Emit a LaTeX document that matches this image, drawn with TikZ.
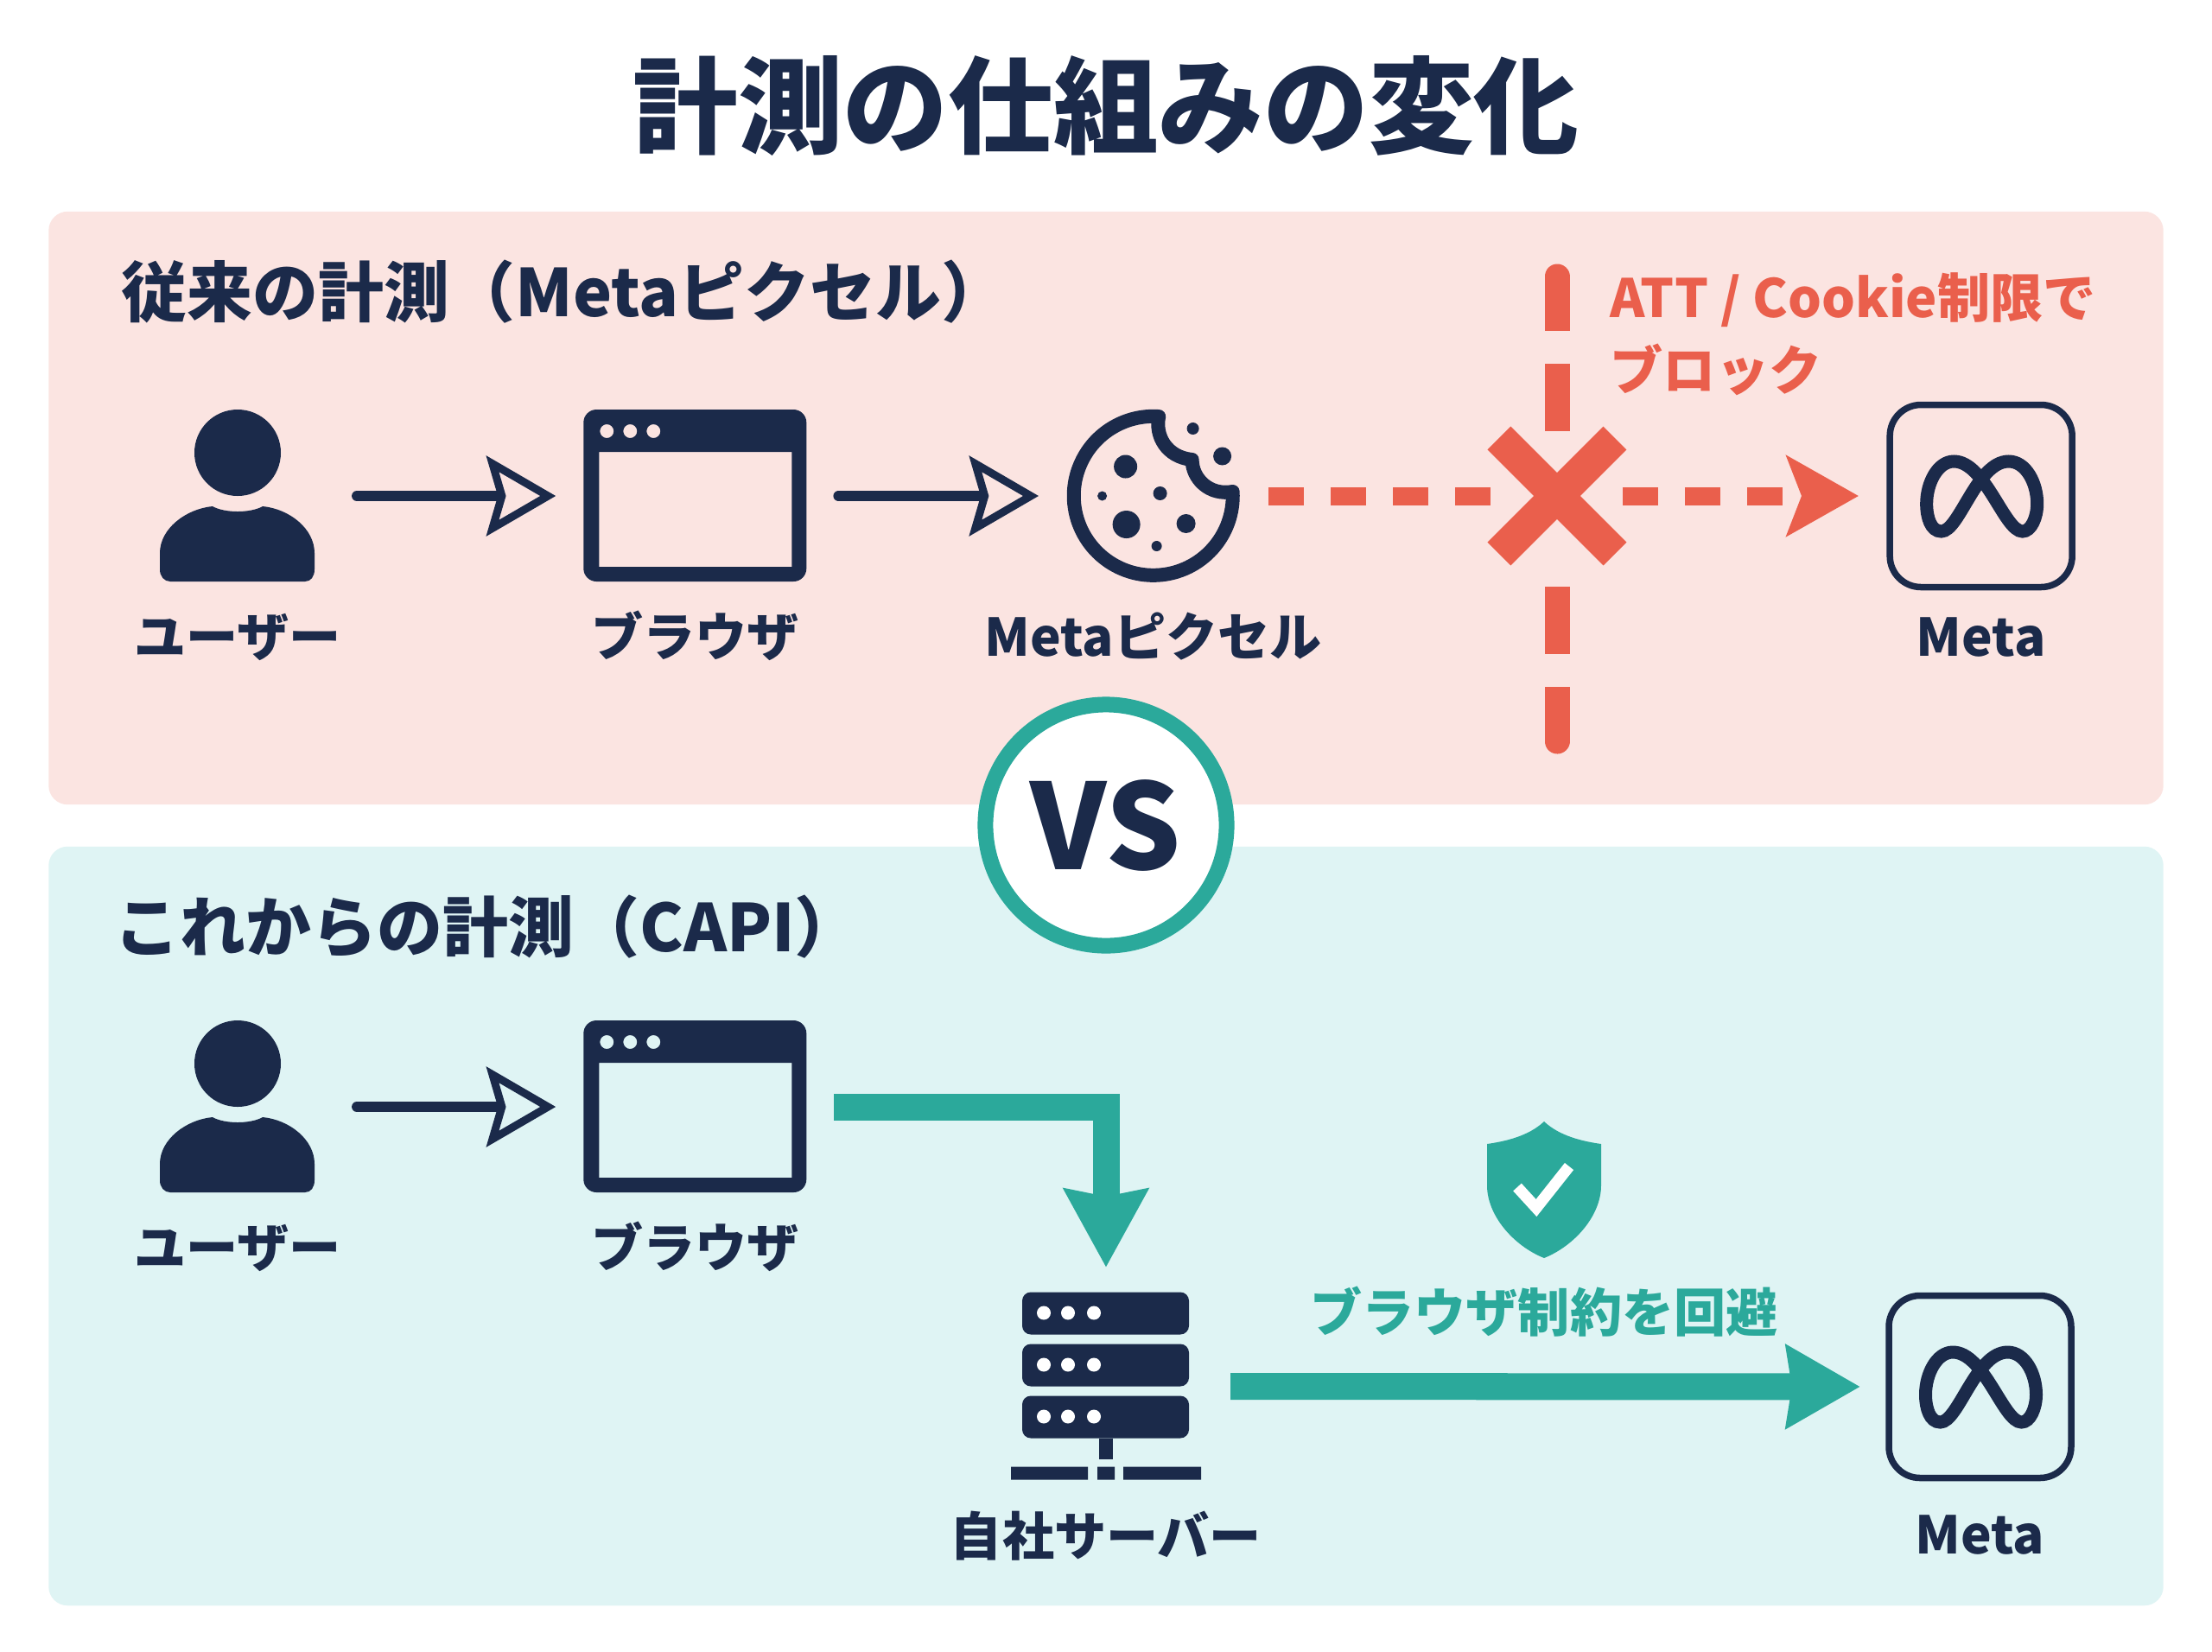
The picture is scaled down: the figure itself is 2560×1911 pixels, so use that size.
\documentclass[tikz,border=0pt]{standalone}
\usepackage{fontspec}
\setmainfont{Noto Sans CJK JP}
\newfontfamily\blackfont{Noto Sans CJK JP Black}
\usetikzlibrary{arrows.meta,positioning,shapes.misc}
\definecolor{navy}{HTML}{1B2A4A}
\definecolor{redc}{HTML}{EA5F4C}
\definecolor{tealc}{HTML}{2BA99B}
\definecolor{panelred}{HTML}{FBE4E1}
\definecolor{panelteal}{HTML}{DFF4F4}
\tikzset{
  panel/.style={inner sep=0,outer sep=0,rounded corners=0.22cm,minimum width=24.46cm},
  icon/.style={inner sep=0,outer sep=0},
  lab/.style={inner sep=0,text=navy,font=\fontsize{17.1}{20}\selectfont\bfseries,text height=0.52cm,text depth=0.1cm},
  head/.style={inner sep=0,anchor=west,text=navy,font=\fontsize{21.6}{24}\selectfont\bfseries},
  flow/.style={draw=navy,line width=0.12cm,line cap=round,shorten <=0.37cm,shorten >=0.32cm},
  dashflow/.style={draw=redc,line width=0.21cm,dash pattern=on 0.41cm off 0.31cm},
  tealflow/.style={draw=tealc,line width=0.31cm},
  gate/.style={draw=redc,line width=0.29cm},
  usericon/.pic={
    \fill[navy] (0,-50) circle[radius=50];
    \fill[navy] (-29,12) .. controls (-15,20) and (15,20) .. (29,12)
      .. controls (60,15) and (89,38) .. (89,66) -- (89,85)
      .. controls (89,93) and (85,99) .. (78,99) -- (-78,99)
      .. controls (-85,99) and (-90,93) .. (-90,85) -- (-90,66)
      .. controls (-90,38) and (-60,15) .. (-29,12) -- cycle;
  },
  browsericon/.pic={
    \fill[navy,even odd rule] [rounded corners=0.15cm] (-129,-100) rectangle (129,99)
      [sharp corners] (-111,-51) rectangle (112,82)
      (-102,-75) circle[radius=8] (-75,-75) circle[radius=8] (-48,-75) circle[radius=8];
  },
  cookieicon/.pic={
    \draw[navy,line width=0.16cm,line join=round,line cap=round] (92,-5) arc[start angle=-3,end angle=274,radius=92]
      .. controls (2,-70) and (15,-45) .. (45,-42)
      .. controls (45,-20) and (65,0) .. (92,-5);
    \foreach \dx/\dy/\dr in {-32/-34/13.5,46/-78/7,80/-46/10.5,-59/0/5.5,8/-3/8,-31/33/16,38/32/11,4/58/6}
      \fill[navy] (\dx,\dy) circle[radius=\dr];
  },
  metaicon/.pic={
    \draw[navy,line width=0.075cm,rounded corners=0.36cm] (-105.5,-105.5) rectangle (105.5,105.5);
    \draw[navy,line width=0.15cm] (-31.5,-40) .. controls (-50,-40) and (-63,-15) .. (-63,9)
      .. controls (-63,25) and (-58,41) .. (-46,41)
      .. controls (-25,41) and (-5,-40) .. (32,-40)
      .. controls (52,-40) and (65,-15) .. (65,9)
      .. controls (65,25) and (58,41) .. (48,41)
      .. controls (27,41) and (5,-40) .. (-31.5,-40) -- cycle;
  },
  servericon/.pic={
    \foreach \ry in {-109,-49,11}
      \fill[navy,rounded corners=0.1cm] (-97,\ry) rectangle (96,\ry+49);
    \foreach \ry in {-85,-25,35}
      \foreach \rx in {-72,-44,-14}
        \fill[white] (\rx,\ry) circle[radius=8];
    \fill[navy] (-8,60) rectangle (8,84);
    \fill[navy] (-110,93) rectangle (-21,108) (-10,93) rectangle (10,108) (20,93) rectangle (110,108);
  },
  shieldicon/.pic={
    \fill[tealc] (0,-79) .. controls (-18,-62) and (-45,-56) .. (-66,-53) -- (-66,-5)
      .. controls (-66,30) and (-35,65) .. (0,79)
      .. controls (35,65) and (66,30) .. (66,-5) -- (66,-53)
      .. controls (45,-56) and (18,-62) .. (0,-79) -- cycle;
    \draw[white,line width=0.13cm] (-31,-3) -- (-9,21) -- (29,-27);
  }
}
\begin{document}
\begin{tikzpicture}[x=0.01cm,y=-0.01cm,on grid]
  \path[fill=white,use as bounding box] (0,0) rectangle (2560,1911);
  \node (title) at (1280,122) [inner sep=0,text=navy,font=\fontsize{34.6}{40}\selectfont\blackfont] {計測の仕組みの変化};
  \node[panel,fill=panelred,minimum height=6.86cm] (pa) at (1280,588) {};
  \node[panel,fill=panelteal,minimum height=8.78cm] (pb) at (1280,1419) {};
  \node[head] (ha) at (140,338) {従来の計測（Metaピクセル）};
  \node[head] (hb) at (132,1073) {これからの計測（CAPI）};

  \node[icon,minimum width=1.8cm,minimum height=2cm] (u1) at (275,574) {};
  \node[icon,minimum width=2.58cm,minimum height=2cm] (b1) [right=5.29cm of u1] {};
  \node[icon,minimum width=2.01cm,minimum height=2cm] (c1) [right=5.3cm of b1] {};
  \node[cross out,draw=redc,line width=0.38cm,inner sep=0,outer sep=0,minimum size=1.34cm] (x1) [right=4.67cm of c1] {};
  \node[icon,minimum width=2.17cm,minimum height=2.17cm] (m1) [right=4.905cm of x1] {};
  \pic at (u1) {usericon};
  \pic at (b1) {browsericon};
  \pic at (c1) {cookieicon};
  \pic at (m1) {metaicon};
  \node[lab] (lu1) [below=1.64cm of u1] {ユーザー};
  \node[lab] (lb1) [below=1.64cm of b1] {ブラウザ};
  \node[lab] (lc1) [below=1.64cm of c1] {Metaピクセル};
  \node[lab] (lm1) [below=1.64cm of m1] {Meta};

  \coordinate (g1) at (1802,320);
  \coordinate (g2) at (1802,499);
  \coordinate (g3) at (1802,679);
  \coordinate (g4) at (1802,858);
  \draw[gate,dash pattern=on 0.78cm off 0.38cm,dash phase=0.15cm] (g1) -- (g2);
  \draw[gate,dash pattern=on 0.78cm off 0.38cm] (g3) -- (g4);
  \draw[gate,line cap=round] (g1) -- ++(0,5);
  \draw[gate,line cap=round] (g4) -- ++(0,-5);
  \node (att) at (1863,387) [inner sep=0,anchor=west,align=left,text=redc,font=\fontsize{17.4}{23.9}\selectfont\bfseries] {ATT / Cookie制限で\\ブロック};

  \path[->]
  (u1) edge [flow,shorten <=0.48cm,-{Stealth[length=0.8cm,width=0.92cm,inset=0.13cm,line width=0.09cm,fill=panelred]}] (b1)
  (b1) edge [flow,-{Stealth[length=0.8cm,width=0.92cm,inset=0.13cm,line width=0.09cm,fill=panelred]}] (c1)
  (c1) edge [dashflow,-,shorten <=0.33cm,shorten >=0.08cm] (x1)
  (x1) edge [dashflow,shorten <=0.09cm,shorten >=0.33cm,-{Stealth[length=0.83cm,width=0.92cm,inset=0.17cm,fill=redc]}] (m1)
  ;

  \node[icon,minimum width=1.8cm,minimum height=2cm] (u2) at (275,1281) {};
  \node[icon,minimum width=2.58cm,minimum height=2cm] (b2) [right=5.29cm of u2] {};
  \node[icon,minimum width=2.2cm,minimum height=2.17cm] (s2) at (1280,1604.5) {};
  \node[icon,minimum width=2.17cm,minimum height=2.17cm] (m2) at (2291.5,1605) {};
  \node[icon,minimum width=1.32cm,minimum height=1.58cm] (v2) at (1787,1377) {};
  \pic at (u2) {usericon};
  \pic at (b2) {browsericon};
  \pic at (s2) {servericon};
  \pic at (m2) {metaicon};
  \pic at (v2) {shieldicon};
  \node[lab] (lu2) [below=1.64cm of u2] {ユーザー};
  \node[lab] (lb2) [below=1.64cm of b2] {ブラウザ};
  \node[lab] (ls2) [below=1.75cm of s2] {自社サーバー};
  \node[lab] (lm2) [below=1.72cm of m2] {Meta};
  \node[lab,text=tealc] (lv2) [below=1.43cm of v2] {ブラウザ制約を回避};

  \path[->]
  (u2) edge [flow,shorten <=0.48cm,-{Stealth[length=0.8cm,width=0.92cm,inset=0.13cm,line width=0.09cm,fill=panelteal]}] (b2)
  (s2) edge [tealflow,shorten <=0.34cm,shorten >=0.3cm,-{Stealth[length=0.85cm,width=0.94cm,inset=0.06cm,fill=tealc]}] (m2)
  ;
  \draw[tealflow,shorten <=0.32cm,shorten >=0.29cm,-{Stealth[length=0.9cm,width=0.95cm,inset=0.08cm,fill=tealc]}] (b2.east) -| (s2.north);

  \node (vs) at (1280,955) [circle,draw=tealc,fill=white,line width=0.18cm,inner sep=0,minimum size=2.79cm,text=navy,font=\fontsize{39}{46}\selectfont\bfseries] {VS};
\end{tikzpicture}
\end{document}
